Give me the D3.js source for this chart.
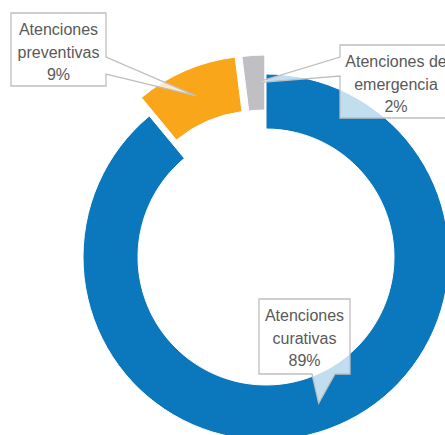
<!DOCTYPE html>
<html>
<head>
<meta charset="utf-8">
<script src="https://cdn.jsdelivr.net/npm/d3@7"></script>
<style>
  html, body { margin: 0; padding: 0; background: #fff; }
  svg { display: block; }
</style>
</head>
<body>
<svg id="chart" width="445" height="435"></svg>
<script>
// Distribution of attentions by type (percent of total)
const categories = ["Atenciones curativas", "Atenciones preventivas", "Atenciones de emergencia"];
const shares = [89, 9, 2];
// Label wording, split into lines as shown in each callout
const labelLines = [
  ["Atenciones", "curativas"],
  ["Atenciones", "preventivas"],
  ["Atenciones de", "emergencia"]
];

// Presentation settings
const colors = ["#0b77bd", "#f9a61b", "#c0bfc4"];
const explode = [0, 20, 19];
const center = { x: 266, y: 257 };
const innerR = 128, outerR = 183;
const callouts = [
  { box: [259, 299, 91, 75], side: "bottom", wedge: [312, 335] },
  { box: [11, 13, 95, 73], side: "right", wedge: [57, 74] },
  { box: [340, 45, 112, 73], side: "left", wedge: [57, 76] }
];

const svg = d3.select("#chart");
const g = svg.append("g").attr("transform", `translate(${center.x},${center.y})`);

const pie = d3.pie().sort(null).value(d => d).startAngle(0).endAngle(2 * Math.PI);
const arc = d3.arc().innerRadius(innerR).outerRadius(outerR);
const arcs = pie(shares);

function offset(d, i) {
  const mid = (d.startAngle + d.endAngle) / 2;
  return [Math.sin(mid) * explode[i], -Math.cos(mid) * explode[i]];
}

g.selectAll("path.slice")
  .data(arcs)
  .join("path")
  .attr("class", "slice")
  .attr("d", arc)
  .attr("transform", (d, i) => { const o = offset(d, i); return `translate(${o[0]},${o[1]})`; })
  .attr("fill", (d, i) => colors[i])
  .attr("stroke", "#fff")
  .attr("stroke-width", 1);

// Callout boxes with a pointer to each slice
function calloutPath(c, tip) {
  const [x, y, w, h] = c.box;
  const [a, b] = c.wedge;
  const p = d3.path();
  p.moveTo(x, y);
  if (c.side === "right") {
    p.lineTo(x + w, y); p.lineTo(x + w, a); p.lineTo(tip[0], tip[1]); p.lineTo(x + w, b);
    p.lineTo(x + w, y + h); p.lineTo(x, y + h);
  } else if (c.side === "left") {
    p.lineTo(x + w, y); p.lineTo(x + w, y + h); p.lineTo(x, y + h);
    p.lineTo(x, b); p.lineTo(tip[0], tip[1]); p.lineTo(x, a);
  } else {
    p.lineTo(x + w, y); p.lineTo(x + w, y + h); p.lineTo(b, y + h);
    p.lineTo(tip[0], tip[1]); p.lineTo(a, y + h); p.lineTo(x, y + h);
  }
  p.closePath();
  return p.toString();
}

const labels = svg.selectAll("g.callout")
  .data(arcs)
  .join("g")
  .attr("class", "callout");

labels.append("path")
  .attr("d", (d, i) => {
    const c = arc.centroid(d);
    const o = offset(d, i);
    const tip = [center.x + c[0] + o[0], center.y + c[1] + o[1]];
    return calloutPath(callouts[i], tip);
  })
  .attr("fill", "#fff")
  .attr("fill-opacity", 0.75)
  .attr("stroke", "#bfbfbf")
  .attr("stroke-width", 1.3)
  .attr("stroke-linejoin", "miter");

labels.each(function (d, i) {
  const [x, y, w] = callouts[i].box;
  const lines = labelLines[i].concat([shares[i] + "%"]);
  d3.select(this).selectAll("text")
    .data(lines)
    .join("text")
    .attr("x", x + w / 2)
    .attr("y", (t, k) => y + 22 + k * 22.5)
    .attr("text-anchor", "middle")
    .attr("font-family", "'Liberation Sans', Arial, sans-serif")
    .attr("font-size", 16)
    .attr("fill", "#595959")
    .text(t => t);
});
</script>
</body>
</html>
